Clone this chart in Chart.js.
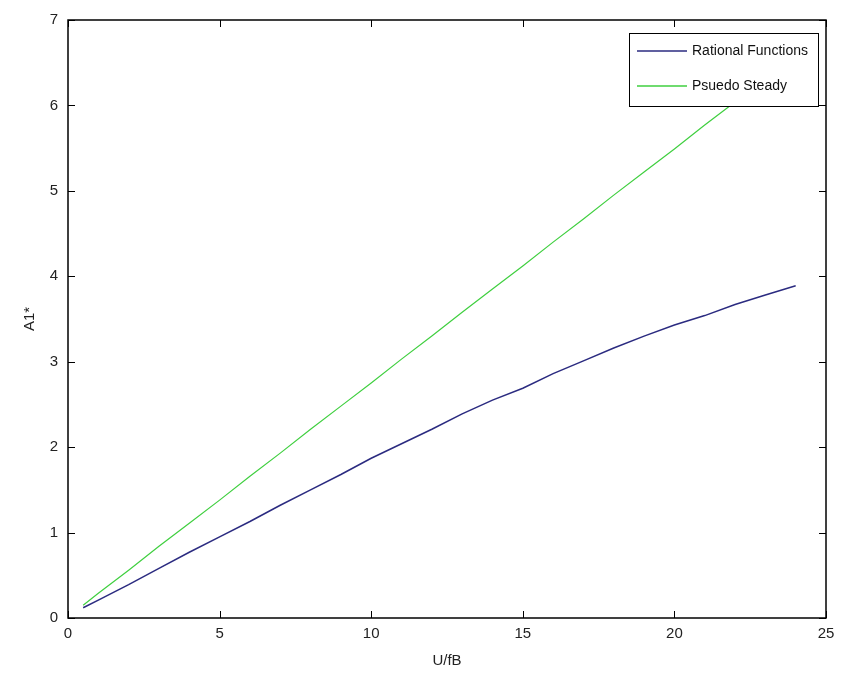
<!DOCTYPE html>
<html>
<head>
<meta charset="utf-8">
<script src="https://cdn.jsdelivr.net/npm/chart.js@4/dist/chart.umd.min.js"></script>
<style>
html,body{margin:0;padding:0;background:#fff;}
#wrap{width:843px;height:679px;position:relative;}
</style>
</head>
<body>
<div id="wrap"><canvas id="c" width="843" height="679"></canvas></div>
<script>
// ---- data ----
const xValues = [0.5, 1, 2, 3, 4, 5, 6, 7, 8, 9, 10, 11, 12, 13, 14, 15, 16, 17, 18, 19, 20, 21, 22, 23, 24];
const rationalFunctions = [0.12, 0.21, 0.39, 0.58, 0.77, 0.95, 1.13, 1.32, 1.50, 1.68, 1.87, 2.04, 2.21, 2.39, 2.55, 2.69, 2.86, 3.01, 3.16, 3.30, 3.43, 3.54, 3.67, 3.78, 3.89];
const psuedoSteady = [0.15, 0.29, 0.56, 0.84, 1.11, 1.38, 1.66, 1.93, 2.21, 2.48, 2.75, 3.03, 3.30, 3.58, 3.85, 4.12, 4.40, 4.67, 4.95, 5.22, 5.49, 5.77, 6.04, 6.32, 6.59];
const seriesLabels = ["Rational Functions", "Psuedo Steady"];
const xTicks = [0, 5, 10, 15, 20, 25];
const yTicks = [0, 1, 2, 3, 4, 5, 6, 7];
const xTitle = "U/fB";
const yTitle = "A1*";

const FONT = "'Liberation Sans', Arial, sans-serif";
const colors = ["#2b2b80", "#3fcf3f"];

const toPoints = (ys) => xValues.map((x, i) => ({x: x, y: ys[i]}));

const boxPlugin = {
  id: 'matlabBox',
  afterDatasetsDraw(chart) {
    const ctx = chart.ctx;
    const a = chart.chartArea;
    const xs = chart.scales.x, ys = chart.scales.y;
    const tl = 7;
    ctx.save();
    ctx.strokeStyle = '#000';
    ctx.lineWidth = 1;
    ctx.beginPath();
    xTicks.forEach(v => {
      const px = Math.round(xs.getPixelForValue(v)) + 0.5;
      ctx.moveTo(px, a.bottom); ctx.lineTo(px, a.bottom - tl);
      ctx.moveTo(px, a.top); ctx.lineTo(px, a.top + tl);
    });
    yTicks.forEach(v => {
      const py = Math.round(ys.getPixelForValue(v)) + 0.5;
      ctx.moveTo(a.left, py); ctx.lineTo(a.left + tl, py);
      ctx.moveTo(a.right, py); ctx.lineTo(a.right - tl, py);
    });
    ctx.stroke();
    ctx.lineWidth = 1.5;
    ctx.strokeRect(a.left, a.top, a.right - a.left, a.bottom - a.top);

    // legend
    const lx = 629, ly = 33, lw = 189, lh = 73;
    ctx.fillStyle = '#fff';
    ctx.fillRect(lx, ly, lw, lh);
    ctx.lineWidth = 1;
    ctx.strokeStyle = '#000';
    ctx.strokeRect(lx + 0.5, ly + 0.5, lw, lh);
    ctx.font = "14px " + FONT;
    ctx.textBaseline = 'middle';
    ctx.textAlign = 'left';
    chart.data.datasets.forEach((ds, i) => {
      const yy = ly + 18 + i * 35;
      ctx.strokeStyle = ds.borderColor;
      ctx.lineWidth = 1.5;
      ctx.beginPath();
      ctx.moveTo(lx + 8, yy); ctx.lineTo(lx + 58, yy);
      ctx.stroke();
      ctx.fillStyle = '#111';
      ctx.fillText(ds.label, lx + 63, yy);
    });
    ctx.restore();
  }
};

new Chart(document.getElementById('c'), {
  type: 'line',
  data: {
    datasets: [
      {label: seriesLabels[0], data: toPoints(rationalFunctions), borderColor: colors[0], borderWidth: 1.5, pointRadius: 0, tension: 0, fill: false},
      {label: seriesLabels[1], data: toPoints(psuedoSteady), borderColor: colors[1], borderWidth: 1.2, pointRadius: 0, tension: 0, fill: false}
    ]
  },
  options: {
    responsive: false,
    animation: false,
    layout: {padding: {left: 0, right: 17, top: 20, bottom: 0}},
    plugins: {legend: {display: false}, tooltip: {enabled: false}},
    scales: {
      x: {
        type: 'linear', min: 0, max: 25,
        afterBuildTicks: (s) => { s.ticks = xTicks.map(v => ({value: v})); },
        afterFit: (s) => { s.height = 61; },
        grid: {display: false, drawTicks: false},
        border: {display: false},
        ticks: {color: '#222', font: {family: FONT, size: 15}, padding: 7, maxRotation: 0},
        title: {display: true, text: xTitle, color: '#222', font: {family: FONT, size: 15}, padding: {top: 0, bottom: 9}}
      },
      y: {
        type: 'linear', min: 0, max: 7,
        afterBuildTicks: (s) => { s.ticks = yTicks.map(v => ({value: v})); },
        afterFit: (s) => { s.width = 68; },
        grid: {display: false, drawTicks: false},
        border: {display: false},
        ticks: {color: '#222', font: {family: FONT, size: 15}, padding: 10},
        title: {display: true, text: yTitle, color: '#222', font: {family: FONT, size: 15}, padding: {top: 21, bottom: 0}}
      }
    }
  },
  plugins: [boxPlugin]
});
</script>
</body>
</html>
